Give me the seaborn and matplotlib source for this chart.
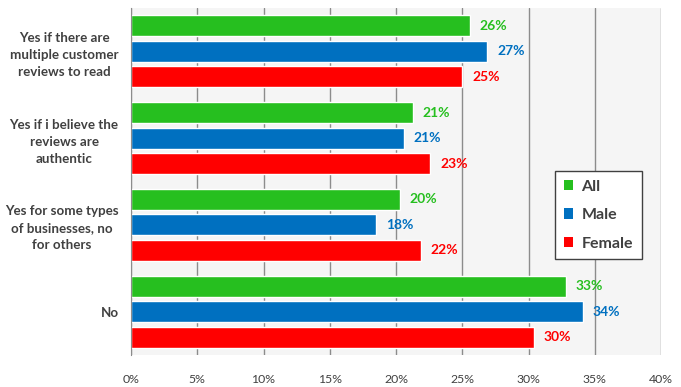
import matplotlib
matplotlib.use("Agg")
import matplotlib.pyplot as plt
import seaborn as sns
import pandas as pd
from matplotlib.ticker import PercentFormatter
from matplotlib.patches import Patch

categories = [
    "Yes if there are\nmultiple customer\nreviews to read",
    "Yes if i believe the\nreviews are\nauthentic",
    "Yes for some types\nof businesses, no\nfor others",
    "No",
]
groups = ["All", "Male", "Female"]
all_vals = [25.6, 21.3, 20.3, 32.8]
male_vals = [26.9, 20.6, 18.5, 34.1]
female_vals = [25.0, 22.6, 21.9, 30.4]
xticks = [0, 5, 10, 15, 20, 25, 30, 35, 40]

colors = {"All": "#26BF1F", "Male": "#0070C0", "Female": "#FF0000"}
text_dark = "#404040"

rows = []
for g, vals in zip(groups, [all_vals, male_vals, female_vals]):
    for c, v in zip(categories, vals):
        rows.append({"category": c, "group": g, "value": v})
df = pd.DataFrame(rows)

sns.set_style("white")
plt.rcParams["font.family"] = ["Lato", "DejaVu Sans"]

fig = plt.figure(figsize=(6.81, 3.87), dpi=100)
ax = fig.add_axes([131 / 681, 32 / 387, 530 / 681, 347 / 387])
ax.set_facecolor("#F5F5F5")

sns.barplot(data=df, y="category", x="value", hue="group", order=categories,
            hue_order=groups, palette=colors, orient="h", width=0.88, gap=0.18,
            saturation=1, legend=False, ax=ax)

for cont, g in zip(ax.containers, groups):
    ax.bar_label(cont, labels=[f"{v:.0f}%" for v in cont.datavalues],
                 padding=7, color=colors[g], fontweight="bold", fontsize=10)

ax.set_xlim(0, 40)
ax.set_xticks(xticks)
ax.xaxis.set_major_formatter(PercentFormatter(decimals=0))
ax.grid(axis="x", color="#8C8C8C", linewidth=1)
ax.set_axisbelow(True)
ax.set_xlabel("")
ax.set_ylabel("")
for s in ["top", "right", "bottom"]:
    ax.spines[s].set_visible(False)
ax.spines["left"].set_color("#8C8C8C")
ax.tick_params(axis="x", length=0, pad=14, labelsize=8.8, labelcolor=text_dark)
ax.tick_params(axis="y", length=0, pad=9, labelsize=9.6, labelcolor=text_dark)
for t in ax.get_yticklabels():
    t.set_fontweight("bold")
    t.set_multialignment("center")
    t.set_linespacing(1.5)

handles = [Patch(facecolor=colors[g], edgecolor="none", label=g) for g in groups]
leg = ax.legend(handles=handles, loc="upper left",
                bbox_to_anchor=((555 - 131) / 530, (355 - 171) / 347),
                borderaxespad=0,
                frameon=True, fancybox=False, handlelength=0.6, handleheight=0.6,
                handletextpad=0.5, labelspacing=0.9, borderpad=0.55,
                prop={"weight": "bold", "size": 11.5})
leg.get_frame().set_edgecolor("#404040")
leg.get_frame().set_linewidth(1)
leg.get_frame().set_facecolor("white")
leg.get_frame().set_alpha(1)
for t in leg.get_texts():
    t.set_color(text_dark)

fig.savefig("out.png", dpi=100, facecolor="white")
